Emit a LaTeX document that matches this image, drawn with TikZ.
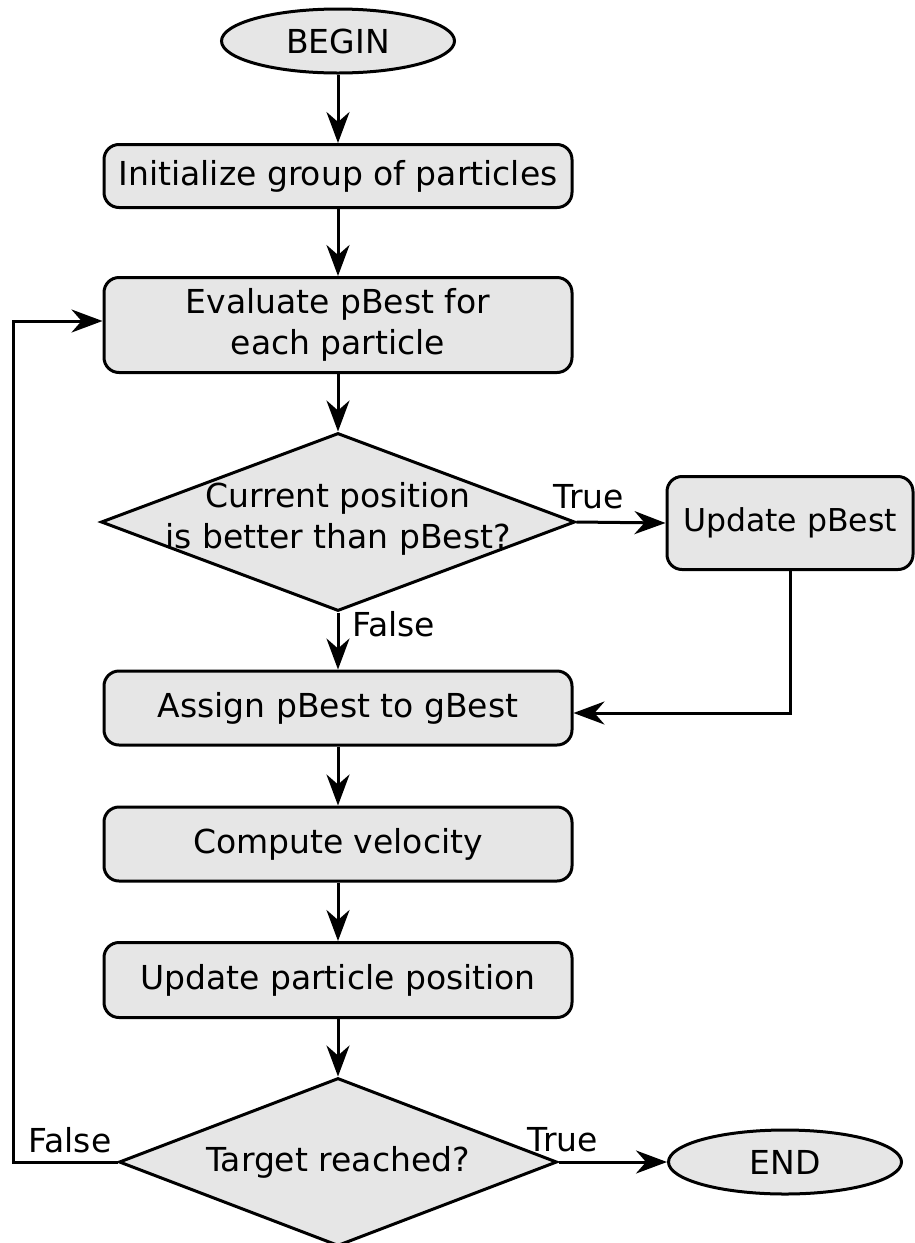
\documentclass[tikz,border=0pt]{standalone}
\usepackage{fontspec}
\setmainfont{DejaVu Sans}
\usetikzlibrary{shapes.geometric,arrows.meta}
\definecolor{boxfill}{HTML}{E6E6E6}
\begin{document}
\begin{tikzpicture}[x=1pt,y=-1pt,
  every node/.style={font=\fontsize{33}{41}\selectfont},
  procbox/.style={draw, line width=3pt, fill=boxfill, rounded corners=15pt, minimum width=468pt, align=center, inner sep=0pt},
  term/.style={draw, ellipse, line width=3pt, fill=boxfill, minimum width=233pt, minimum height=64pt, inner sep=0pt},
  decision/.style={draw, diamond, line width=3pt, fill=boxfill, inner sep=0pt},
  flow/.style={line width=3pt, -{Stealth[length=31pt,width=23pt,inset=10pt]}},
  lbl/.style={inner sep=0pt}
]
\useasboundingbox (0,0) rectangle (915,1243);
\clip (0,0) rectangle (915,1243);

\node[term] (begin) at (338,41) {BEGIN};
\node[procbox, minimum height=63pt] (init) at (338,176) {Initialize group of particles};
\node[procbox, minimum height=95pt] (eval) at (338,325) {Evaluate pBest for\\each particle};
\node[decision, minimum width=474pt, minimum height=178pt] (dec1) at (338,522) {};
\node[lbl, align=center] (dec1t) at (338,519) {Current position\\is better than pBest?};
\node[procbox, minimum width=246pt, minimum height=93pt] (updp) at (790,523) {\fontsize{31.5}{38}\selectfont Update pBest};
\node[procbox, minimum height=74pt] (assign) at (338,708) {Assign pBest to gBest};
\node[procbox, minimum height=74pt] (comp) at (338,844) {Compute velocity};
\node[procbox, minimum height=75pt] (updpos) at (338,980) {Update particle position};
\node[decision, minimum width=438pt, minimum height=168pt] (dec2) at (338,1162) {};
\node[lbl] (dec2t) at (338,1162) {Target reached?};
\node[term] (end) at (785,1162) {END};

\node[lbl] (t1) at (589,497) {True};
\node[lbl, anchor=west] (f1) at (352,624) {False};
\node[lbl] (t2) at (563,1140) {True};
\node[lbl] (f2) at (70,1140) {False};

\coordinate (loopc) at (13,1162);

\draw[flow] (begin) -- (init);
\draw[flow] (init) -- (eval);
\draw[flow] (eval) -- (dec1);
\draw[flow] (dec1.east) -- (updp.west);
\draw[flow] (dec1.south) -- (assign.north);
\draw[flow] (updp.south) |- ([yshift=-5pt]assign.east);
\draw[flow] (assign) -- (comp);
\draw[flow] (comp) -- (updpos);
\draw[flow] (updpos) -- (dec2);
\draw[flow] (dec2.east) -- (end.west);
\draw[flow] (dec2.west) -- (loopc) |- ([yshift=4pt]eval.west);
\end{tikzpicture}
\end{document}
